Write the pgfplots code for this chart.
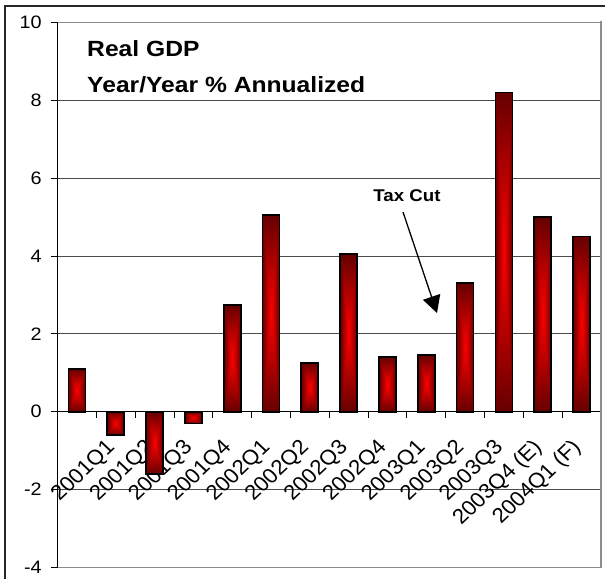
\documentclass[border=0pt]{standalone}
\usepackage{fontspec}
\setmainfont{Liberation Sans}
\usepackage{pgfplots}
\pgfplotsset{compat=1.18}
\usetikzlibrary{arrows.meta}
\pgfdeclarefunctionalshading{barshade}{\pgfpoint{-50bp}{-50bp}}{\pgfpoint{50bp}{50bp}}{}{%
abs exch abs 2 copy lt {exch} if pop 25 div dup 1 gt {pop 1} if 0.6 mul 1 exch sub 0 0}
\pgfplotsset{gdpbar/.style={ybar, bar width=17bp, bar shift=0pt, draw=black, line width=1.7bp, fill=none, preaction={shade, shading=barshade, draw=none}}}
\begin{document}
\begin{tikzpicture}
\useasboundingbox (0,0) rectangle (605bp,579bp);
\begin{axis}[
  at={(57.5bp,11.5bp)}, anchor=south west,
  scale only axis, width=543.5bp, height=545bp,
  xmin=-0.5, xmax=13.5, ymin=-4, ymax=10,
  axis x line*=middle, axis y line*=left,
  axis line style={black, line width=1.2bp},
  tick align=outside,
  xtick={0,...,13},
  xticklabels={,2001Q1,2001Q2,2001Q3,2001Q4,2002Q1,2002Q2,2002Q3,2002Q4,2003Q1,2003Q2,2003Q3,2003Q4 (E),2004Q1 (F)},
  major x tick style={draw=none},
  minor xtick={0.5,1.5,...,12.5},
  minor x tick style={black, line width=0.9bp},
  minor tick length=6bp,
  major tick length=6bp,
  ytick={-4,-2,...,10},
  yticklabels={-4,-2,0,2,4,6,8,10},
  y tick style={black, line width=0.9bp},
  yticklabel style={font=\fontsize{18bp}{21bp}\selectfont, xshift=-6bp, xscale=1.1},
  xticklabel style={font=\fontsize{21bp}{24bp}\selectfont, inner sep=0pt, anchor=east, xshift=-4bp, yshift=-27bp, xscale=1.06, rotate=45},
  ymajorgrids, grid style={black!70, line width=0.9bp},
  clip=false,
]
\addplot[gdpbar] coordinates {(0,1.1)};
\addplot[gdpbar] coordinates {(1,-0.6)};
\addplot[gdpbar] coordinates {(2,-1.6)};
\addplot[gdpbar] coordinates {(3,-0.3)};
\addplot[gdpbar] coordinates {(4,2.75)};
\addplot[gdpbar] coordinates {(5,5.05)};
\addplot[gdpbar] coordinates {(6,1.25)};
\addplot[gdpbar] coordinates {(7,4.05)};
\addplot[gdpbar] coordinates {(8,1.4)};
\addplot[gdpbar] coordinates {(9,1.45)};
\addplot[gdpbar] coordinates {(10,3.3)};
\addplot[gdpbar] coordinates {(11,8.2)};
\addplot[gdpbar] coordinates {(12,5.0)};
\addplot[gdpbar] coordinates {(13,4.5)};
\end{axis}
\draw[black!45, line width=1bp] (57.5bp,556.5bp) -- (601bp,556.5bp);
\draw[black!45, line width=2.5bp] (601bp,557.5bp) -- (601bp,10.5bp);
\draw[black!45, line width=1.5bp] (57.5bp,11.5bp) -- (601bp,11.5bp);
\draw[black!85, line width=1.5bp] (5bp,-20bp) -- (5bp,573bp) -- (640bp,573bp);
\node[anchor=base west, font=\fontsize{22bp}{26bp}\selectfont\bfseries, xscale=1.12, inner sep=0pt] at (87bp,522bp) {Real GDP};
\node[anchor=base west, font=\fontsize{22bp}{26bp}\selectfont\bfseries, xscale=1.12, inner sep=0pt] at (87bp,486bp) {Year/Year \% Annualized};
\node[anchor=base, font=\fontsize{17bp}{20bp}\selectfont\bfseries, xscale=1.1, inner sep=0pt] at (407bp,377bp) {Tax Cut};
\draw[line width=1.3bp, -{Triangle[length=17bp,width=18bp]}] (403bp,367bp) -- (437bp,266bp);
\end{tikzpicture}
\end{document}
